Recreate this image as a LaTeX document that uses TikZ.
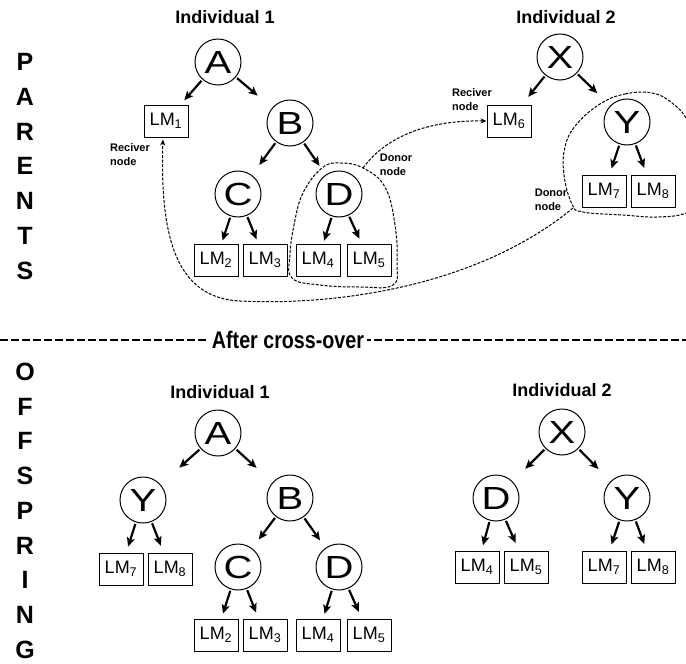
\documentclass[tikz,border=0pt]{standalone}
\usepackage{fontspec}
\setmainfont{Liberation Sans}
\usetikzlibrary{arrows.meta,calc}
\newcommand{\wideletter}[1]{\scalebox{1.25}[1]{#1}}
\tikzset{
      treenode/.style={
        circle,
        draw=black,
        line width=1pt,
        minimum size=46pt,
        inner sep=0pt,
        font=\fontsize{32}{32}\selectfont
      },
      leafbox/.style={
        draw=black,
        line width=1pt,
        minimum width=44pt,
        minimum height=32pt,
        inner sep=0pt,
        font=\fontsize{18}{18}\selectfont
      },
      childarrow/.style={-{Stealth[length=9pt,width=8pt,inset=2pt]}, line width=2.2pt},
      swapline/.style={dash pattern=on 3pt off 1.5pt, line width=1pt},
      swaparrow/.style={swapline, -{Stealth[length=6pt,width=5pt]}},
      sepline/.style={dash pattern=on 8pt off 3pt, line width=1.3pt},
      sidetitle/.style={font=\bfseries\fontsize{25}{25}\selectfont},
      indtitle/.style={font=\bfseries\fontsize{18}{18}\selectfont},
      smallnote/.style={align=left, inner sep=0pt, font=\bfseries\fontsize{11}{14}\selectfont}
    }
\begin{document}
\begin{tikzpicture}[x=1pt,y=-1pt]
    \useasboundingbox (0,0) rectangle (686,664);
    \node[sidetitle] (sP) at (25,62) {P};
    \node[sidetitle] (sA) at (25,97) {A};
    \node[sidetitle] (sR) at (25,132) {R};
    \node[sidetitle] (sE) at (25,166) {E};
    \node[sidetitle] (sN) at (25,201) {N};
    \node[sidetitle] (sT) at (25,236) {T};
    \node[sidetitle] (sS) at (25,271) {S};
    \node[sidetitle] (oO) at (25,372) {O};
    \node[sidetitle] (oF1) at (25,407) {F};
    \node[sidetitle] (oF2) at (25,441) {F};
    \node[sidetitle] (oS) at (25,476) {S};
    \node[sidetitle] (oP) at (25,511) {P};
    \node[sidetitle] (oR) at (25,546) {R};
    \node[sidetitle] (oI) at (25,580) {I};
    \node[sidetitle] (oN) at (25,615) {N};
    \node[sidetitle] (oG) at (25,650) {G};
    \node[indtitle] (pInd1) at (225,17) {Individual 1};
    \node[indtitle] (pInd2) at (566,17) {Individual 2};
    \node[treenode] (pA) at (218,62) {\wideletter{A}};
    \node[treenode] (pB) at (290,123) {\wideletter{B}};
    \node[treenode] (pC) at (238,194) {\wideletter{C}};
    \node[treenode] (pD) at (339,194) {\wideletter{D}};
    \node[leafbox] (pLM1) at (166,121) {LM\textsubscript{1}};
    \node[leafbox] (pLM2) at (216,260) {LM\textsubscript{2}};
    \node[leafbox] (pLM3) at (265,260) {LM\textsubscript{3}};
    \node[leafbox] (pLM4) at (318,260) {LM\textsubscript{4}};
    \node[leafbox] (pLM5) at (369,260) {LM\textsubscript{5}};
    \node[treenode] (pX) at (560,57) {\wideletter{X}};
    \node[treenode] (pY) at (627,122) {\wideletter{Y}};
    \node[leafbox] (pLM6) at (509,121) {LM\textsubscript{6}};
    \node[leafbox] (pLM7) at (604,191) {LM\textsubscript{7}};
    \node[leafbox] (pLM8) at (653,191) {LM\textsubscript{8}};
    \draw[childarrow] ($(pA)!25pt!(pLM1)$) -- ($(pA)!51pt!(pLM1)$);
    \draw[childarrow] ($(pA)!25pt!(pB)$) -- ($(pA)!52pt!(pB)$);
    \draw[childarrow] ($(pB)!25pt!(pC)$) -- ($(pB)!52pt!(pC)$);
    \draw[childarrow] ($(pB)!25pt!(pD)$) -- ($(pB)!52pt!(pD)$);
    \draw[childarrow] ($(pC)!25pt!(pLM2)$) -- ($(pC)!49pt!(pLM2)$);
    \draw[childarrow] ($(pC)!25pt!(pLM3)$) -- ($(pC)!49pt!(pLM3)$);
    \draw[childarrow] ($(pD)!25pt!(pLM4)$) -- ($(pD)!49pt!(pLM4)$);
    \draw[childarrow] ($(pD)!25pt!(pLM5)$) -- ($(pD)!49pt!(pLM5)$);
    \draw[childarrow] ($(pX)!25pt!(pLM6)$) -- ($(pX)!51pt!(pLM6)$);
    \draw[childarrow] ($(pX)!25pt!(pY)$) -- ($(pX)!52pt!(pY)$);
    \draw[childarrow] ($(pY)!25pt!(pLM7)$) -- ($(pY)!49pt!(pLM7)$);
    \draw[childarrow] ($(pY)!25pt!(pLM8)$) -- ($(pY)!49pt!(pLM8)$);
    \node[smallnote] (recv1) at (130,155) {Reciver\\node};
    \node[smallnote] (recv2) at (472,100) {Reciver\\node};
    \node[smallnote] (donor1) at (396,165) {Donor\\node};
    \node[smallnote] (donor2) at (551,200) {Donor\\node};
    \draw[swapline] plot[smooth cycle, tension=0.7] coordinates {(322,168) (340,163) (363,168) (385,187) (395,225) (397,262) (393,285) (360,287) (320,285) (292,278) (290,255) (294,225) (303,193)};
    \draw[swapline] plot[smooth cycle, tension=0.7] coordinates {(600,104) (625,94) (652,93) (672,103) (688,122) (700,160) (696,200) (686,213) (657,217) (623,215) (583,212) (572,204) (564,175) (565,147) (576,125)};
    \coordinate (donorD) at (363,168);
    \coordinate (donorY) at (573,208);
    \draw[swaparrow] (donorD) .. controls (385,138) and (425,120) .. (pLM6.west);
    \draw[swaparrow, shorten >=2pt] (donorY) .. controls (480,285) and (340,306) .. (240,301) .. controls (175,298) and (160,235) .. ([xshift=-3pt]pLM1.south);
    \coordinate (sepL) at (0,340);
    \coordinate (sepR) at (686,340);
    \draw[sepline] (sepL) -- (sepR);
    \node[fill=white, inner sep=3pt, font=\bfseries\fontsize{24}{24}\selectfont] (xover) at (288,340) {\scalebox{0.82}[1]{After cross-over}};
    \node[indtitle] (oInd1) at (220,392) {Individual 1};
    \node[indtitle] (oInd2) at (562,390) {Individual 2};
    \node[treenode] (oA) at (218,433) {\wideletter{A}};
    \node[treenode] (oY) at (143,500) {\wideletter{Y}};
    \node[treenode] (oB) at (290,498) {\wideletter{B}};
    \node[treenode] (oC) at (238,567) {\wideletter{C}};
    \node[treenode] (oD) at (339,567) {\wideletter{D}};
    \node[leafbox] (oLM7) at (121,569) {LM\textsubscript{7}};
    \node[leafbox] (oLM8) at (170,569) {LM\textsubscript{8}};
    \node[leafbox] (oLM2) at (216,635) {LM\textsubscript{2}};
    \node[leafbox] (oLM3) at (265,635) {LM\textsubscript{3}};
    \node[leafbox] (oLM4) at (318,635) {LM\textsubscript{4}};
    \node[leafbox] (oLM5) at (369,635) {LM\textsubscript{5}};
    \node[treenode] (oX) at (562,432) {\wideletter{X}};
    \node[treenode] (oD2) at (496,498) {\wideletter{D}};
    \node[treenode] (oY2) at (627,498) {\wideletter{Y}};
    \node[leafbox] (oLM4b) at (477,567) {LM\textsubscript{4}};
    \node[leafbox] (oLM5b) at (526,567) {LM\textsubscript{5}};
    \node[leafbox] (oLM7b) at (604,567) {LM\textsubscript{7}};
    \node[leafbox] (oLM8b) at (653,567) {LM\textsubscript{8}};
    \draw[childarrow] ($(oA)!25pt!(oY)$) -- ($(oA)!52pt!(oY)$);
    \draw[childarrow] ($(oA)!25pt!(oB)$) -- ($(oA)!52pt!(oB)$);
    \draw[childarrow] ($(oY)!25pt!(oLM7)$) -- ($(oY)!49pt!(oLM7)$);
    \draw[childarrow] ($(oY)!25pt!(oLM8)$) -- ($(oY)!49pt!(oLM8)$);
    \draw[childarrow] ($(oB)!25pt!(oC)$) -- ($(oB)!52pt!(oC)$);
    \draw[childarrow] ($(oB)!25pt!(oD)$) -- ($(oB)!52pt!(oD)$);
    \draw[childarrow] ($(oC)!25pt!(oLM2)$) -- ($(oC)!49pt!(oLM2)$);
    \draw[childarrow] ($(oC)!25pt!(oLM3)$) -- ($(oC)!49pt!(oLM3)$);
    \draw[childarrow] ($(oD)!25pt!(oLM4)$) -- ($(oD)!49pt!(oLM4)$);
    \draw[childarrow] ($(oD)!25pt!(oLM5)$) -- ($(oD)!49pt!(oLM5)$);
    \draw[childarrow] ($(oX)!25pt!(oD2)$) -- ($(oX)!52pt!(oD2)$);
    \draw[childarrow] ($(oX)!25pt!(oY2)$) -- ($(oX)!52pt!(oY2)$);
    \draw[childarrow] ($(oD2)!25pt!(oLM4b)$) -- ($(oD2)!49pt!(oLM4b)$);
    \draw[childarrow] ($(oD2)!25pt!(oLM5b)$) -- ($(oD2)!49pt!(oLM5b)$);
    \draw[childarrow] ($(oY2)!25pt!(oLM7b)$) -- ($(oY2)!49pt!(oLM7b)$);
    \draw[childarrow] ($(oY2)!25pt!(oLM8b)$) -- ($(oY2)!49pt!(oLM8b)$);
    \end{tikzpicture}
\end{document}
